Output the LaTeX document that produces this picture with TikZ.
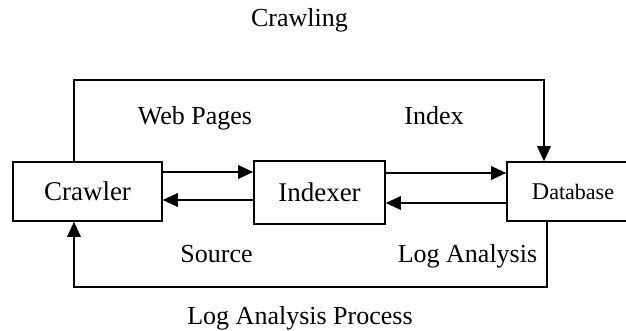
\documentclass[tikz,border=0pt]{standalone}
\usepackage{fontspec}
\setmainfont{Liberation Serif}
\usetikzlibrary{arrows.meta}
\begin{document}
\begin{tikzpicture}[x=1pt,y=-1pt,
  box/.style={draw,line width=1.6pt,minimum width=#1,inner sep=0pt,font=\fontsize{27}{30}\selectfont},
  lbl/.style={anchor=base,inner sep=0pt,font=\fontsize{26}{30}\selectfont},
  arr/.style={line width=1.8pt,-{Triangle[length=15pt,width=13.5pt]}},
  ln/.style={line width=1.8pt}]
\useasboundingbox (0,0) rectangle (626,331);
\clip (0,0) rectangle (626,331);
\node[box=149pt,minimum height=59pt] (crawler) at (87.5,191.5) {Crawler};
\node[box=131pt,minimum height=63pt] (indexer) at (319.5,192.5) {Indexer};
\node[box=132pt,minimum height=59pt] (database) at (573,191.5) {{\fontsize{24}{28}\selectfont D}{\fontsize{22}{26}\selectfont atabase}};
\coordinate (ya) at (0,172);
\coordinate (yb) at (0,200);
\coordinate (yc) at (0,173);
\coordinate (yd) at (0,203);
\coordinate (tl) at (74,80);
\coordinate (tr) at (544,80);
\coordinate (bl) at (74,287);
\coordinate (br) at (547,287);
\draw[arr] (crawler.east |- ya) -- (indexer.west |- ya);
\draw[arr] (indexer.west |- yb) -- (crawler.east |- yb);
\draw[arr] (indexer.east |- yc) -- (database.west |- yc);
\draw[arr] (database.west |- yd) -- (indexer.east |- yd);
\draw[arr] (crawler.north -| tl) -- (tl) -- (tr) -- (database.north -| tr);
\draw[arr] (database.south -| br) -- (br) -- (bl) -- (crawler.south -| bl);
\node[lbl] (crawling) at (299.5,27) {Crawling};
\node[lbl] (webpages) at (195,125) {Web Pages};
\node[lbl] (index) at (434,125) {Index};
\node[lbl] (source) at (216.5,262) {Source};
\node[lbl] (loganalysis) at (467.5,262) {Log Analysis};
\node[lbl] (process) at (300,324) {Log Analysis Process};
\end{tikzpicture}
\end{document}
